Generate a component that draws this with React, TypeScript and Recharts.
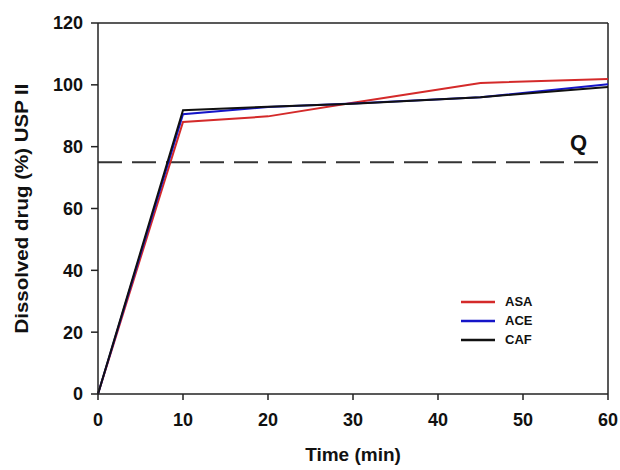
import React from 'react';
import { LineChart, Line, XAxis, YAxis, ReferenceLine, Legend, Label } from 'recharts';

const times = [0, 10, 20, 30, 45, 60];
const asa = [0, 88, 89.8, 94.2, 100.6, 101.9];
const ace = [0, 90.5, 92.8, 94, 96, 100.2];
const caf = [0, 91.8, 92.9, 93.9, 96, 99.3];
const seriesNames = ['ASA', 'ACE', 'CAF'];
const xTicks = [0, 10, 20, 30, 40, 50, 60];
const yTicks = [0, 20, 40, 60, 80, 100, 120];
const qLevel = 75;

const data = times.map((t, i) => ({ time: t, ASA: asa[i], ACE: ace[i], CAF: caf[i] }));

const font = '"Liberation Sans", Arial, sans-serif';

function LegendBox(props: any) {
  const items = [...(props.payload || [])].sort(
    (a: any, b: any) => seriesNames.indexOf(a.value) - seriesNames.indexOf(b.value)
  );
  return (
    <div style={{ fontFamily: font, fontWeight: 'bold', fontSize: 13 }}>
      {items.map((it: any) => (
        <div key={it.value} style={{ display: 'flex', alignItems: 'center', height: 19 }}>
          <svg width={36} height={10}>
            <line x1={1} x2={35} y1={5} y2={5} stroke={it.color} strokeWidth={2.5} />
          </svg>
          <span style={{ marginLeft: 9, color: '#111' }}>{it.value}</span>
        </div>
      ))}
    </div>
  );
}

// the source figure is stretched vertically, so the rotated title is longer than its font size suggests
function YTitle(props: any) {
  const vb = props.viewBox;
  const cx = 21;
  const cy = vb.y + vb.height / 2;
  return (
    <text x={cx} y={cy} transform={`rotate(-90 ${cx} ${cy})`} textAnchor="middle" dominantBaseline="central"
      fontFamily={font} fontWeight="bold" fontSize={19} fill="#111" textLength={250} lengthAdjust="spacingAndGlyphs">
      Dissolved drug (%) USP II
    </text>
  );
}

function App() {
  const tickStyle = { fontFamily: font, fontWeight: 'bold', fontSize: 18, fill: '#111' };
  return (
    <div style={{ position: 'absolute', left: 0, top: 0, background: '#fff' }}>
      <LineChart width={620} height={470} data={data} margin={{ top: 23, right: 12, left: 38, bottom: 0 }}>
        <XAxis dataKey="time" type="number" domain={[0, 60]} ticks={xTicks} interval={0}
          height={76} tick={tickStyle} tickSize={6} tickMargin={13}
          axisLine={{ stroke: '#222', strokeWidth: 1.5 }} tickLine={{ stroke: '#222', strokeWidth: 1.5 }}>
          <Label value="Time (min)" position="insideBottom" offset={9}
            style={{ fontFamily: font, fontWeight: 'bold', fontSize: 19, fill: '#111' }} />
        </XAxis>
        <YAxis type="number" domain={[0, 120]} ticks={yTicks} interval={0} width={60}
          tick={tickStyle} tickSize={7} tickMargin={8}
          axisLine={{ stroke: '#222', strokeWidth: 1.5 }} tickLine={{ stroke: '#222', strokeWidth: 1.5 }}>
          <Label content={<YTitle />} />
        </YAxis>
        <ReferenceLine y={120} stroke="#222" strokeWidth={1.5} />
        <ReferenceLine x={60} stroke="#222" strokeWidth={1.5} />
        <ReferenceLine y={qLevel} stroke="#333" strokeWidth={2} strokeDasharray="24 10">
          <Label value="Q" position="insideBottomRight" offset={12} dx={-9}
            style={{ fontFamily: font, fontWeight: 'bold', fontSize: 22, fill: '#111' }} />
        </ReferenceLine>
        <Line type="linear" dataKey="ASA" stroke="#d42a2a" strokeWidth={2} dot={false} isAnimationActive={false} />
        <Line type="linear" dataKey="ACE" stroke="#1515c8" strokeWidth={2} dot={false} isAnimationActive={false} />
        <Line type="linear" dataKey="CAF" stroke="#111111" strokeWidth={2} dot={false} isAnimationActive={false} />
        <Legend content={<LegendBox />} layout="vertical" verticalAlign="middle" align="center"
          wrapperStyle={{ left: 460, top: 292, width: 100 }} />
      </LineChart>
    </div>
  );
}

export default App;
